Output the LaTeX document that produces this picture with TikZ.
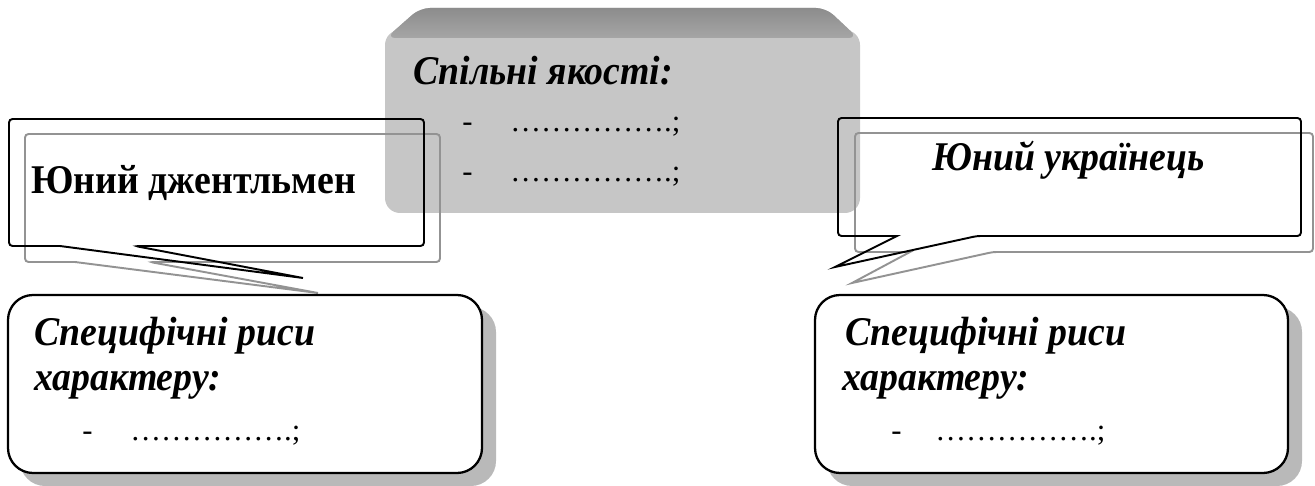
\documentclass[tikz,border=0pt]{standalone}
\usepackage{fontspec}
\setmainfont{Liberation Serif}
\usetikzlibrary{positioning}

\newcommand{\tall}[1]{\scalebox{1}[1.08]{#1}}

\begin{document}
\begin{tikzpicture}[
    x=0.02cm, y=-0.02cm,
    head/.style={anchor=base west,inner sep=0pt,font=\fontsize{21.5}{26}\selectfont\bfseries\itshape},
    line/.style={anchor=base west,inner sep=0pt,font=\fontsize{17.5}{22}\selectfont},
    bubble/.style={draw=black,line width=1.1pt},
    echo/.style={draw=gray!85,line width=1.1pt},
    card/.style={draw=black,fill=white,line width=1.3pt,rounded corners=0.5cm},
    shade/.style={fill=gray!55,rounded corners=0.5cm}
    ]

    \useasboundingbox (0,0) rectangle (1315,486);

    % common qualities
    \fill[gray!45,rounded corners=0.3cm] (385,30) rectangle (860,213);
    \shade[top color=gray!90,bottom color=gray!70,rounded corners=0.2cm]
        (420,8) -- (826,8) -- (858,38) -- (386,38) -- cycle;
    \node[head] (common) at (413,85) {\tall{Спільні якості:}};
    \node[line] (c1) at (462,132) {-};
    \node[line] (c2) at (510,132) {…………….;};
    \node[line] (c3) at (462,182) {-};
    \node[line] (c4) at (510,182) {…………….;};

    % left bubble
    \draw[echo] (25,134) [rounded corners=2pt] -- (440,134) -- (440,262) -- (150,262)
        [sharp corners] -- (318,293) -- (75,262) [rounded corners=2pt] -- (25,262) -- cycle;
    \draw[bubble] (9,119) [rounded corners=2pt] -- (424,119) -- (424,246) -- (135,246)
        [sharp corners] -- (303,278) -- (60,246) [rounded corners=2pt] -- (9,246) -- cycle;
    \node[head,font=\fontsize{21.5}{26}\selectfont\bfseries] (gent) at (31,194) {\tall{Юний джентльмен}};

    % right bubble
    \draw[echo] (855,133) [rounded corners=2pt] -- (1313,133) -- (1313,252) -- (993,252)
        [sharp corners] -- (852,283) -- (910,252) [rounded corners=2pt] -- (855,252) -- cycle;
    \draw[bubble] (838,118) [rounded corners=2pt] -- (1301,118) -- (1301,236) -- (977,236)
        [sharp corners] -- (835,267) -- (897,236) [rounded corners=2pt] -- (838,236) -- cycle;
    \node[head] (ukr) at (932,171) {\tall{Юний українець}};

    % left card
    \fill[shade] (20,307) rectangle (496,486);
    \draw[card] (8,295) rectangle (482,473);
    \node[head] (l1) at (34,345) {\tall{Специфічні риси}};
    \node[head] (l2) at (34,390) {\tall{характеру:}};
    \node[line] (l3) at (82,440) {-};
    \node[line] (l4) at (130,440) {…………….;};

    % right card
    \fill[shade] (827,307) rectangle (1302,486);
    \draw[card] (815,295) rectangle (1288,473);
    \node[head] (r1) at (845,345) {\tall{Специфічні риси}};
    \node[head] (r2) at (842,390) {\tall{характеру:}};
    \node[line] (r3) at (891,440) {-};
    \node[line] (r4) at (935,440) {…………….;};

  \end{tikzpicture}
\end{document}
